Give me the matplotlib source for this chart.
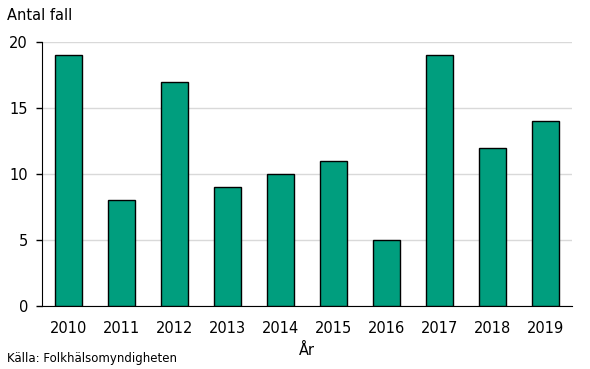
import matplotlib.pyplot as plt
import numpy as np

years = ["2010", "2011", "2012", "2013", "2014", "2015", "2016", "2017", "2018", "2019"]
cases = [19, 8, 17, 9, 10, 11, 5, 19, 12, 14]
y_ticks = [0, 5, 10, 15, 20]

plt.rcParams["font.family"] = ["Verdana", "DejaVu Sans"]

fig = plt.figure(figsize=(5.9, 3.69), dpi=100)
ax = fig.add_axes([0.071, 0.171, 0.898, 0.715])

x = np.arange(len(years))
ax.bar(x, cases, width=0.51, color="#009E7E", edgecolor="black", linewidth=1, zorder=3)

ax.set_xlim(-0.5, len(years) - 0.5)
ax.set_ylim(0, 20)
ax.set_yticks(y_ticks)
ax.set_xticks(x)
ax.set_xticklabels(years)
ax.yaxis.grid(True, color="#d9d9d9", linewidth=1, zorder=0)
ax.tick_params(axis="y", length=4, width=1, labelsize=10.5, pad=6)
ax.tick_params(axis="x", length=0, labelsize=10.5, pad=11)

for side in ["top", "right"]:
    ax.spines[side].set_visible(False)
ax.spines["left"].set_color("black")
ax.spines["bottom"].set_color("black")

ax.set_xlabel("År", fontsize=10.5, labelpad=5)
fig.text(0.012, 0.958, "Antal fall", fontsize=10.5, va="center", ha="left")
fig.text(0.012, 0.028, "Källa: Folkhälsomyndigheten", fontsize=8.5, va="center", ha="left")

fig.savefig("out.png", dpi=100)
